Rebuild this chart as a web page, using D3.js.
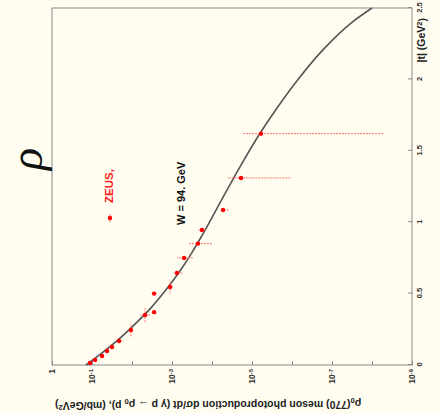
<!DOCTYPE html>
<html><head><meta charset="utf-8">
<script src="https://cdn.jsdelivr.net/npm/d3@7"></script>
<style>body{margin:0;background:#fffdf0;} svg{display:block}</style>
</head><body><svg id="c" width="439" height="414"></svg>
<script>
// ---- data (|t| in GeV^2, dsigma/dt in mb/GeV^2) ----
const tVals  = [0.014, 0.035, 0.063, 0.098, 0.126, 0.168, 0.245, 0.35, 0.37, 0.50, 0.546, 0.645, 0.75, 0.85, 0.945, 1.085, 1.31, 1.62];
const dsdt   = [0.112, 0.084, 0.056, 0.042, 0.0316, 0.0211, 0.0106, 0.0047, 0.0028, 0.0028, 0.00112, 7.5e-4, 5.0e-4, 2.24e-4, 1.78e-4, 5.3e-5, 1.88e-5, 5.96e-6];
const errLo  = [0.100, 0.075, 0.050, 0.037, 0.028, 0.018, 0.0094, 0.0035, 0.0025, 0.0025, 0.00095, 5.5e-4, 3.0e-4, 1.0e-4, 1.4e-4, 3.8e-5, 1.1e-6, 5.3e-9];
const errHi  = [0.125, 0.094, 0.063, 0.047, 0.036, 0.024, 0.012, 0.0063, 0.0032, 0.0032, 0.0013, 9.5e-4, 7.5e-4, 4.0e-4, 2.2e-4, 6.3e-5, 4.2e-5, 1.68e-5];
const tErr   = [0, 0.01, 0.01, 0.01, 0.01, 0.015, 0.045, 0.05, 0.01, 0.01, 0.045, 0.01, 0, 0, 0, 0, 0, 0];
// model curve (log10 of dsigma/dt)
const curveT = [0, 0.1, 0.2, 0.3, 0.4, 0.5, 0.6, 0.7, 0.8, 0.9, 1.0, 1.2, 1.4, 1.6, 1.8, 2.0, 2.2, 2.4, 2.5];
const curveLg= [-0.85, -1.325, -1.75, -2.125, -2.475, -2.775, -3.05, -3.3, -3.525, -3.7375, -3.9375, -4.325, -4.725, -5.15, -5.625, -6.15, -6.75, -7.5, -8.0];
// ticks
const tTicks = [0, 0.5, 1, 1.5, 2, 2.5];
const decadeExps = [0, -1, -2, -3, -4, -5, -6, -7, -8, -9];
const labelledExps = [0, -1, -3, -5, -7, -9];

const svg = d3.select('#c');
svg.append('rect').attr('width',439).attr('height',414).attr('fill','#fffdf0');

const W = 357, H = 360;
const g = svg.append('g').attr('transform','translate(52,365) rotate(-90)');
const xS = d3.scaleLinear().domain([0,2.5]).range([0,W]);
const yS = d3.scaleLog().domain([1e-9,1]).range([H,0]);

const FONT = '"Liberation Sans", Arial, Helvetica, sans-serif';
const frameCol = '#8a8a8a';

// frame
g.append('rect').attr('x',0).attr('y',0).attr('width',W).attr('height',H)
 .attr('fill','none').attr('stroke',frameCol).attr('stroke-width',1);

// x axis (|t|)
const ax = g.append('g').attr('transform',`translate(0,${H})`)
 .call(d3.axisBottom(xS).tickValues(tTicks).tickSizeInner(-4).tickSizeOuter(0).tickPadding(5).tickFormat(d=>String(d)));
ax.select('.domain').remove();
ax.selectAll('line').attr('stroke',frameCol);
ax.selectAll('text').attr('font-family',FONT).attr('font-size',7.5).attr('font-weight','bold').attr('fill','#333');

// y axis (log)
const ay = g.append('g')
 .call(d3.axisLeft(yS).tickValues(decadeExps.map(e=>Math.pow(10,e))).tickSizeInner(-4).tickSizeOuter(0).tickPadding(4).tickFormat(()=>''));
ay.select('.domain').remove();
ay.selectAll('line').attr('stroke',frameCol);
ay.selectAll('.tick').each(function(d){
  const e = Math.round(Math.log10(d));
  if(labelledExps.indexOf(e)<0) return;
  const txt = d3.select(this).select('text').attr('font-family',FONT).attr('font-size',8.5).attr('font-weight','bold').attr('fill','#333');
  if(e===0){ txt.text('1'); }
  else { txt.text('10'); txt.append('tspan').attr('dy','-0.45em').attr('font-size',6).text(String(e)); }
});

// titles
const xt = g.append('text').attr('x',347).attr('y',H+13).attr('text-anchor','end')
 .attr('font-family',FONT).attr('font-size',10.5).attr('font-weight','bold').attr('fill','#222');
xt.append('tspan').text('|t| (GeV');
xt.append('tspan').attr('dy','-0.4em').attr('font-size',7.5).text('2');
xt.append('tspan').attr('dy','0.4em').text(')');

const yt = g.append('text').attr('transform','translate(-35,3) rotate(-90)').attr('text-anchor','end')
 .attr('font-family',FONT).attr('font-size',10.5).attr('font-weight','bold').attr('fill','#222');
yt.append('tspan').text('ρ');
yt.append('tspan').attr('dy','0.3em').attr('font-size',7.5).text('0');
yt.append('tspan').attr('dy','-0.3em').text('(770) meson photoproduction dσ/dt (γ p → ρ');
yt.append('tspan').attr('dy','0.3em').attr('font-size',7.5).text('0');
yt.append('tspan').attr('dy','-0.3em').text(' p), (mb/GeV');
yt.append('tspan').attr('dy','-0.4em').attr('font-size',7.5).text('2');
yt.append('tspan').attr('dy','0.4em').text(')');

// big rho
g.append('text').attr('x',206).attr('y',-10).attr('text-anchor','middle')
 .attr('font-family','"Liberation Serif", "DejaVu Serif", serif').attr('font-style','italic')
 .attr('font-size',46).attr('fill','#111').text('ρ');

// curve
const line = d3.line().x((d,i)=>xS(curveT[i])).y((d,i)=>yS(Math.pow(10,curveLg[i]))).curve(d3.curveMonotoneX);
g.append('path').datum(curveT).attr('d',line).attr('fill','none').attr('stroke','#555').attr('stroke-width',1.6);

// data
const pts = tVals.map((t,i)=>({t, v:dsdt[i], lo:errLo[i], hi:errHi[i], te:tErr[i]}));
const errCol = '#ff7070';
g.selectAll('line.ev').data(pts).join('line').attr('class','ev')
 .attr('x1',d=>xS(d.t)).attr('x2',d=>xS(d.t)).attr('y1',d=>yS(d.lo)).attr('y2',d=>yS(d.hi))
 .attr('stroke',errCol).attr('stroke-width',1).attr('stroke-dasharray','2,1');
g.selectAll('line.et').data(pts.filter(d=>d.te>0)).join('line').attr('class','et')
 .attr('x1',d=>xS(d.t-d.te)).attr('x2',d=>xS(d.t+d.te)).attr('y1',d=>yS(d.v)).attr('y2',d=>yS(d.v))
 .attr('stroke',errCol).attr('stroke-width',1).attr('stroke-dasharray','2,1');
g.selectAll('circle.pt').data(pts).join('circle').attr('class','pt')
 .attr('cx',d=>xS(d.t)).attr('cy',d=>yS(d.v)).attr('r',2.2).attr('fill','#ff0000');

// legend
g.append('line').attr('x1',143).attr('x2',151).attr('y1',58).attr('y2',58).attr('stroke',errCol).attr('stroke-width',1);
g.append('circle').attr('cx',147).attr('cy',58).attr('r',2.2).attr('fill','#ff0000');
g.append('text').attr('x',162).attr('y',61).attr('font-family',FONT).attr('font-size',11.5).attr('font-weight','bold')
 .attr('fill','#ff2020').text('ZEUS,');
g.append('text').attr('x',140).attr('y',133).attr('font-family',FONT).attr('font-size',11).attr('font-weight','bold')
 .attr('fill','#111').text('W = 94. GeV');
</script></body></html>
